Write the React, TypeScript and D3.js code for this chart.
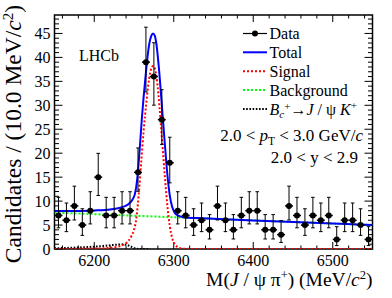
import * as d3 from 'd3';

const W = 392;
const H = 298;
const FRAME = { left: 54.5, right: 372.5, top: 15, bottom: 249 };
const FONT = '"Liberation Serif", "DejaVu Serif", serif';

// bin centres (10 MeV bins) and candidate counts
const binCenters = [
  6155, 6165, 6175, 6185, 6195, 6205, 6215, 6225, 6235, 6245,
  6255, 6265, 6275, 6285, 6295, 6305, 6315, 6325, 6335, 6345,
  6355, 6365, 6375, 6385, 6395, 6405, 6415, 6425, 6435, 6445,
  6455, 6465, 6475, 6485, 6495, 6505, 6515, 6525, 6535, 6545,
];
const counts = [
  7, 6, 9, 5, 8, 15, 7, 7, 8, 8,
  16, 39, 36, 27, 18, 8, 7, 5, 6, 4,
  9, 6, 4, 7, 8, 8, 4, 4, 3, 9,
  7, 5, 7, 6, 7, 2, 6, 6, 5, 2,
];

// fit curves as [mass, candidates]
const totalCurve: [number, number][] = [
  [6150, 7.95], [6180, 7.95], [6200, 8.05], [6220, 8.25], [6230, 8.5], [6236, 8.8],
  [6240, 9.05], [6244, 9.5], [6248, 10.3], [6251, 11.4], [6254, 14.5], [6257, 20.5],
  [6260, 27.5], [6264.5, 36], [6269, 42.6], [6272, 44.6], [6274, 45], [6276, 44.6],
  [6278, 43], [6282, 36.5], [6285.5, 29], [6289, 21.5], [6292, 15.5], [6295, 11.2],
  [6298, 8.8], [6301, 7.6], [6305, 7.0], [6312, 6.65], [6330, 6.45], [6350, 6.3],
  [6400, 5.95], [6450, 5.65], [6500, 5.3], [6550, 5.0],
];
const signalCurve: [number, number][] = [
  [6150, 0], [6190, 0.05], [6215, 0.2], [6230, 0.5], [6238, 1.0], [6243, 1.7],
  [6247, 2.8], [6250, 4.0], [6253, 6.5], [6256, 11.5], [6259, 18], [6262, 24.5],
  [6265.5, 30.5], [6269, 35.5], [6272, 37.8], [6274, 38.2], [6276, 37.8], [6279, 35],
  [6282, 29.8], [6285.5, 22.3], [6289, 14.8], [6292, 9], [6295, 4.8], [6298, 2.3],
  [6301, 1.1], [6305, 0.4], [6312, 0.05], [6330, 0], [6550, 0],
];
const backgroundCurve: [number, number][] = [
  [6150, 7.6], [6250, 6.95], [6350, 6.3], [6450, 5.65], [6550, 5.0],
];
const jpsiKCurve: [number, number][] = [
  [6150, 0.15], [6170, 0.25], [6190, 0.4], [6205, 0.55], [6215, 0.7], [6225, 0.85],
  [6232, 0.95], [6237, 0.97], [6242, 0.8], [6247, 0.45], [6251, 0.15], [6256, 0],
  [6270, 0],
];

const xMajor = [6200, 6300, 6400, 6500];
const yMajor = [0, 5, 10, 15, 20, 25, 30, 35, 40, 45];

// 68% Poisson interval (Gehrels approximation)
function poissonBand(n: number): [number, number] {
  const hi = n + Math.sqrt(n + 0.75) + 1;
  const lo = n === 0 ? 0 : n * Math.pow(1 - 1 / (9 * n) - 1 / (3 * Math.sqrt(n)), 3);
  return [lo, hi];
}

export default function App() {
  const x = d3.scaleLinear().domain([6150, 6550]).range([FRAME.left, FRAME.right]);
  const y = d3.scaleLinear().domain([0, 48.85]).range([FRAME.bottom, FRAME.top]);

  const line = d3
    .line<[number, number]>()
    .x((d) => x(d[0]))
    .y((d) => y(d[1]))
    .curve(d3.curveMonotoneX);

  const xMinor = d3.range(6160, 6550, 20).filter((v) => v % 100 !== 0);
  const yMinor = d3.range(1, 49, 1).filter((v) => v % 5 !== 0);

  const legendRows = [
    { key: 'data', y: 33.5 },
    { key: 'total', y: 52.3 },
    { key: 'signal', y: 71.2 },
    { key: 'bkg', y: 90.1 },
    { key: 'jpsik', y: 109 },
  ];
  const lx0 = 243;
  const lx1 = 267;
  const ltx = 269.5;

  return (
    <svg
      width={W}
      height={H}
      style={{ position: 'absolute', left: 0, top: 0, background: '#fff' }}
      fontFamily={FONT}
    >
      <defs>
        <clipPath id="plot-clip">
          <rect x={FRAME.left} y={FRAME.top} width={FRAME.right - FRAME.left} height={FRAME.bottom - FRAME.top} />
        </clipPath>
      </defs>

      {/* ticks */}
      <g stroke="#000" strokeWidth={1}>
        {xMajor.map((v) => (
          <g key={`xM${v}`}>
            <line x1={x(v)} x2={x(v)} y1={FRAME.bottom} y2={FRAME.bottom - 7} />
            <line x1={x(v)} x2={x(v)} y1={FRAME.top} y2={FRAME.top + 7} />
          </g>
        ))}
        {xMinor.map((v) => (
          <g key={`xm${v}`}>
            <line x1={x(v)} x2={x(v)} y1={FRAME.bottom} y2={FRAME.bottom - 3.5} />
            <line x1={x(v)} x2={x(v)} y1={FRAME.top} y2={FRAME.top + 3.5} />
          </g>
        ))}
        {yMajor.map((v) => (
          <g key={`yM${v}`}>
            <line x1={FRAME.left} x2={FRAME.left + 8} y1={y(v)} y2={y(v)} />
            <line x1={FRAME.right} x2={FRAME.right - 8} y1={y(v)} y2={y(v)} />
          </g>
        ))}
        {yMinor.map((v) => (
          <g key={`ym${v}`}>
            <line x1={FRAME.left} x2={FRAME.left + 4.5} y1={y(v)} y2={y(v)} />
            <line x1={FRAME.right} x2={FRAME.right - 4.5} y1={y(v)} y2={y(v)} />
          </g>
        ))}
      </g>

      <rect
        x={FRAME.left}
        y={FRAME.top}
        width={FRAME.right - FRAME.left}
        height={FRAME.bottom - FRAME.top}
        fill="none"
        stroke="#000"
        strokeWidth={1.5}
      />

      {/* tick labels */}
      <g fontSize={16} fill="#000">
        {xMajor.map((v) => (
          <text key={`xl${v}`} x={x(v)} y={266} textAnchor="middle">
            {v}
          </text>
        ))}
        {yMajor.map((v) => (
          <text key={`yl${v}`} x={50.5} y={y(v)} dy="0.35em" textAnchor="end">
            {v}
          </text>
        ))}
      </g>

      {/* fit components */}
      <g clipPath="url(#plot-clip)" fill="none">
        <path d={line(backgroundCurve) ?? ''} stroke="#00ff00" strokeWidth={2} strokeDasharray="2,2" />
        <path d={line(jpsiKCurve) ?? ''} stroke="#000" strokeWidth={2} strokeDasharray="1.6,1.6" />
        <path d={line(totalCurve) ?? ''} stroke="#0000ff" strokeWidth={2} />
        <path d={line(signalCurve) ?? ''} stroke="#ff0000" strokeWidth={2} strokeDasharray="2,2" />
      </g>

      {/* data */}
      <g stroke="#000" strokeWidth={1}>
        {binCenters.map((m, i) => {
          const n = counts[i];
          const [lo, hi] = poissonBand(n);
          const cx = x(m);
          const cy = y(n);
          return (
            <g key={`pt${m}`}>
              <line x1={cx} x2={cx} y1={y(lo)} y2={y(hi)} />
              <line x1={cx - 1.8} x2={cx + 1.8} y1={y(lo)} y2={y(lo)} />
              <line x1={cx - 1.8} x2={cx + 1.8} y1={y(hi)} y2={y(hi)} />
              <line x1={x(m - 5)} x2={x(m + 5)} y1={cy} y2={cy} strokeWidth={1.5} />
              <circle cx={cx} cy={cy} r={3} fill="#000" stroke="none" />
            </g>
          );
        })}
      </g>

      {/* legend */}
      <g fontSize={16} fill="#000">
        {legendRows.map((r) => {
          const ty = r.y + 5.5;
          if (r.key === 'data') {
            return (
              <g key={r.key}>
                <line x1={lx0} x2={lx1} y1={r.y} y2={r.y} stroke="#000" strokeWidth={1.2} />
                <circle cx={(lx0 + lx1) / 2} cy={r.y} r={3} fill="#000" />
                <text x={ltx} y={ty}>Data</text>
              </g>
            );
          }
          if (r.key === 'total') {
            return (
              <g key={r.key}>
                <line x1={lx0} x2={lx1} y1={r.y} y2={r.y} stroke="#0000ff" strokeWidth={2} />
                <text x={ltx} y={ty}>Total</text>
              </g>
            );
          }
          if (r.key === 'signal') {
            return (
              <g key={r.key}>
                <line x1={lx0} x2={lx1} y1={r.y} y2={r.y} stroke="#ff0000" strokeWidth={2} strokeDasharray="2,2" />
                <text x={ltx} y={ty}>Signal</text>
              </g>
            );
          }
          if (r.key === 'bkg') {
            return (
              <g key={r.key}>
                <line x1={lx0} x2={lx1} y1={r.y} y2={r.y} stroke="#00ff00" strokeWidth={2} strokeDasharray="2,2" />
                <text x={ltx} y={ty}>Background</text>
              </g>
            );
          }
          return (
            <g key={r.key}>
              <line x1={lx0} x2={lx1} y1={r.y} y2={r.y} stroke="#000" strokeWidth={2} strokeDasharray="1.6,1.6" />
              <text x={ltx} y={ty}>
                <tspan fontStyle="italic">B</tspan>
                <tspan fontStyle="italic" fontSize={11} dy={3}>c</tspan>
                <tspan fontSize={11} dy={-8}>+</tspan>
                <tspan dy={5}>→</tspan>
                <tspan fontStyle="italic">J</tspan>
                <tspan> / ψ </tspan>
                <tspan fontStyle="italic">K</tspan>
                <tspan fontSize={11} dy={-6}>+</tspan>
              </text>
            </g>
          );
        })}
      </g>

      <text x={79} y={60.5} fontSize={16}>LHCb</text>

      <text x={363} y={140.5} fontSize={17} textAnchor="end">
        2.0 &lt; <tspan fontStyle="italic">p</tspan>
        <tspan fontSize={11.5} dy={4}>T</tspan>
        <tspan dy={-4}> &lt; 3.0 GeV/</tspan>
        <tspan fontStyle="italic">c</tspan>
      </text>
      <text x={358} y={162.5} fontSize={17} textAnchor="end">
        2.0 &lt; y &lt; 2.9
      </text>

      {/* axis titles */}
      <text x={372.5} y={286} fontSize={19.5} textAnchor="end">
        M(<tspan fontStyle="italic">J</tspan> / ψ π
        <tspan fontSize={12.5} dy={-7}>+</tspan>
        <tspan dy={7}>) (MeV/</tspan>
        <tspan fontStyle="italic">c</tspan>
        <tspan fontSize={12.5} dy={-7}>2</tspan>
        <tspan dy={7}>)</tspan>
      </text>
      <text transform="translate(21,5) rotate(-90)" fontSize={23.5} textAnchor="end">
        Candidates / (10.0 MeV/<tspan fontStyle="italic">c</tspan>
        <tspan fontSize={15} dy={-8}>2</tspan>
        <tspan dy={8}>)</tspan>
      </text>
    </svg>
  );
}
